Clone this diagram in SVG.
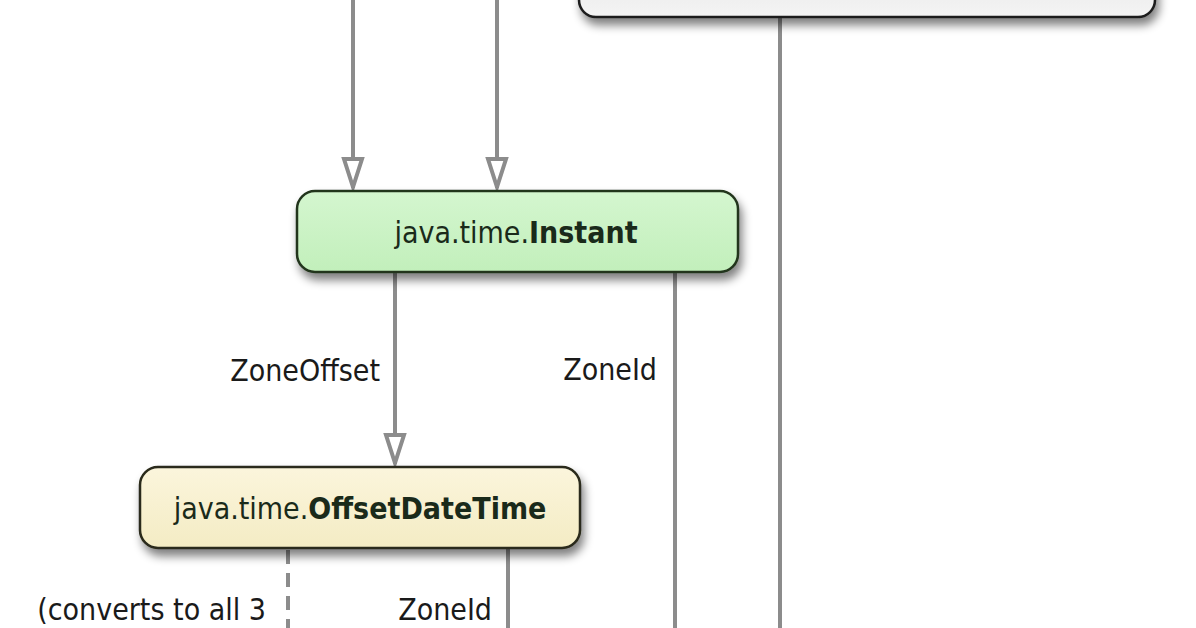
<svg xmlns="http://www.w3.org/2000/svg" width="1196" height="628" viewBox="0 0 1196 628">
<defs>
<style>
.lbl{font-family:"DejaVu Sans Condensed","DejaVu Sans","Liberation Sans",sans-serif;font-size:30px;fill:#1a1a1a}
.ttl{font-family:"DejaVu Sans Condensed","DejaVu Sans","Liberation Sans",sans-serif;font-size:30px;fill:#1a2a1a}
.b{font-weight:bold}
.con{stroke:#8c8c8c;stroke-width:4;fill:none}
.dash{stroke-dasharray:14,9}
</style>
<linearGradient id="gGreen" x1="0" y1="0" x2="0" y2="1">
<stop offset="0" stop-color="#d4f6cf"/>
<stop offset="1" stop-color="#c2efbb"/>
</linearGradient>
<linearGradient id="gYellow" x1="0" y1="0" x2="0" y2="1">
<stop offset="0" stop-color="#fbf5dc"/>
<stop offset="1" stop-color="#f4ecc4"/>
</linearGradient>
<linearGradient id="gGray" x1="0" y1="0" x2="0" y2="1">
<stop offset="0" stop-color="#e6e6e6"/>
<stop offset="1" stop-color="#f4f4f4"/>
</linearGradient>
<filter id="sh" x="-10%" y="-30%" width="120%" height="170%">
<feGaussianBlur in="SourceAlpha" stdDeviation="5"/>
<feOffset dx="3" dy="7" result="o"/>
<feComponentTransfer><feFuncA type="linear" slope="0.5"/></feComponentTransfer>
<feMerge><feMergeNode/><feMergeNode in="SourceGraphic"/></feMerge>
</filter>
<marker id="open" viewBox="0 0 34 24" refX="32" refY="12" markerWidth="34" markerHeight="24" markerUnits="userSpaceOnUse" orient="auto">
<path d="M3,3 L3,21 L31,12 Z" fill="#ffffff" stroke="#8c8c8c" stroke-width="4" stroke-linejoin="miter"/>
</marker>
</defs>
<rect width="1196" height="628" fill="#ffffff"/>
<g id="connectors">
<line class="con" x1="353" y1="-5" x2="353" y2="188" marker-end="url(#open)"/>
<line class="con" x1="497" y1="-5" x2="497" y2="188" marker-end="url(#open)"/>
<line class="con" x1="780" y1="18" x2="780" y2="640"/>
<line class="con" x1="395" y1="272" x2="395" y2="464" marker-end="url(#open)"/>
<line class="con" x1="675" y1="272" x2="675" y2="640"/>
<line class="con dash" x1="288" y1="550" x2="288" y2="640"/>
<line class="con" x1="508" y1="548" x2="508" y2="640"/>
<text class="lbl" x="266" y="381" text-anchor="end" transform="translate(114 0)">ZoneOffset</text>
<text class="lbl" x="657" y="380" text-anchor="end">ZoneId</text>
<text class="lbl" x="266" y="620" text-anchor="end">(converts to all 3</text>
<text class="lbl" x="492" y="620" text-anchor="end">ZoneId</text>
</g>
<g id="node-top">
<rect x="579" y="-40" width="576" height="57" rx="17" fill="url(#gGray)" stroke="#1e1e1e" stroke-width="2.5" filter="url(#sh)"/>
</g>
<g id="node-instant">
<rect x="297" y="191" width="441" height="81" rx="18" fill="url(#gGreen)" stroke="#24361f" stroke-width="2.5" filter="url(#sh)"/>
<text class="ttl" x="516" y="243" text-anchor="middle">java.time.<tspan class="b">Instant</tspan></text>
</g>
<g id="node-offsetdatetime">
<rect x="140" y="467" width="440" height="81" rx="18" fill="url(#gYellow)" stroke="#2a2a1a" stroke-width="2.5" filter="url(#sh)"/>
<text class="ttl" x="360" y="519" text-anchor="middle">java.time.<tspan class="b">OffsetDateTime</tspan></text>
</g>
</svg>
